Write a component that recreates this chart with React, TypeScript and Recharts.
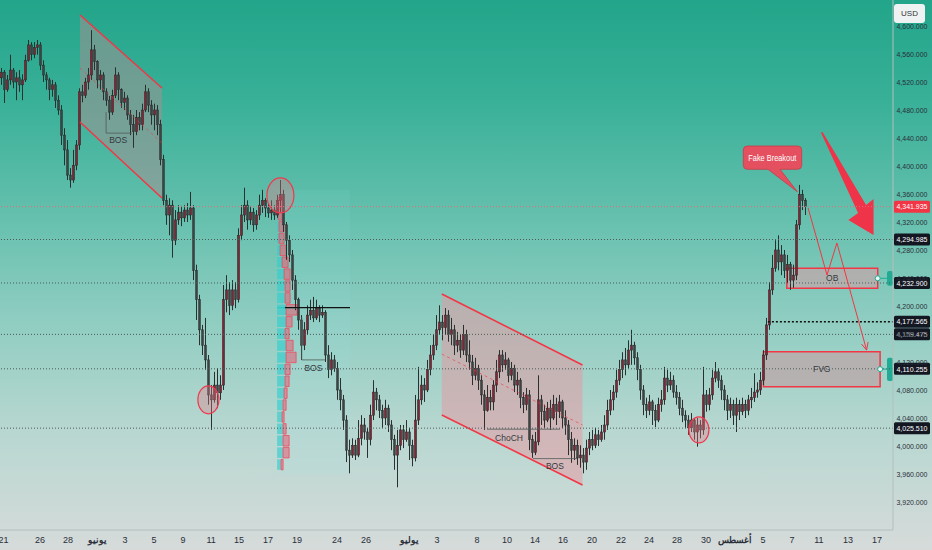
import {
  ComposedChart,
  Bar,
  XAxis,
  YAxis,
  ReferenceLine,
  ReferenceArea,
  ReferenceDot,
} from "recharts";

const FONT = "'Liberation Sans', Arial, sans-serif";

// candles as [open, high, low, close]
const candlesMay = [
  [4526, 4540, 4516, 4534], [4534, 4537, 4490, 4509], [4509, 4530, 4506, 4523], [4523, 4559, 4516, 4537],
  [4537, 4540, 4511, 4520], [4520, 4534, 4494, 4526], [4526, 4537, 4506, 4516], [4516, 4531, 4494, 4523],
  [4523, 4559, 4520, 4551], [4551, 4580, 4549, 4573], [4573, 4577, 4551, 4559], [4559, 4577, 4554, 4569],
  [4569, 4580, 4559, 4573], [4573, 4577, 4537, 4544], [4544, 4551, 4520, 4530], [4530, 4534, 4509, 4523],
  [4523, 4526, 4494, 4509], [4509, 4523, 4499, 4516], [4516, 4520, 4483, 4494], [4494, 4501, 4473, 4480],
  [4480, 4487, 4430, 4444], [4444, 4454, 4401, 4423], [4423, 4437, 4380, 4387], [4387, 4397, 4369, 4380],
  [4380, 4423, 4376, 4401], [4401, 4437, 4394, 4430], [4430, 4511, 4423, 4506], [4506, 4516, 4491, 4501],
  [4501, 4526, 4497, 4520], [4520, 4540, 4509, 4530], [4530, 4594, 4523, 4566], [4566, 4573, 4537, 4549],
];

const candlesJune = [
  [4549, 4551, 4511, 4523], [4523, 4537, 4509, 4530], [4530, 4534, 4494, 4506], [4506, 4511, 4486, 4494],
  [4494, 4500, 4466, 4477], [4477, 4509, 4473, 4501], [4501, 4541, 4497, 4530], [4530, 4534, 4494, 4509],
  [4509, 4511, 4483, 4491], [4491, 4506, 4480, 4497], [4497, 4501, 4466, 4473], [4473, 4480, 4444, 4459],
  [4459, 4473, 4426, 4449], [4449, 4480, 4444, 4469], [4469, 4477, 4451, 4459], [4459, 4489, 4451, 4480],
  [4480, 4516, 4477, 4506], [4506, 4511, 4477, 4487], [4487, 4494, 4459, 4473], [4473, 4489, 4451, 4480],
  [4480, 4487, 4444, 4459], [4459, 4466, 4401, 4409], [4409, 4416, 4344, 4351], [4351, 4359, 4316, 4330],
  [4330, 4354, 4301, 4344], [4344, 4351, 4269, 4294], [4294, 4337, 4287, 4323], [4323, 4344, 4316, 4334],
  [4334, 4343, 4314, 4326], [4326, 4344, 4320, 4337], [4337, 4347, 4320, 4330], [4330, 4363, 4323, 4340],
  [4340, 4344, 4237, 4251], [4251, 4259, 4180, 4209], [4209, 4216, 4144, 4166], [4166, 4173, 4130, 4144],
  [4144, 4183, 4109, 4123], [4123, 4130, 4059, 4073], [4073, 4087, 4023, 4066], [4066, 4106, 4062, 4087],
  [4087, 4111, 4054, 4076], [4076, 4101, 4066, 4087], [4087, 4230, 4080, 4209], [4209, 4244, 4191, 4223],
  [4223, 4234, 4187, 4201], [4201, 4237, 4194, 4223], [4223, 4234, 4197, 4209], [4209, 4311, 4205, 4301],
  [4301, 4344, 4294, 4330], [4330, 4369, 4320, 4344], [4344, 4351, 4309, 4323], [4323, 4343, 4316, 4334],
  [4334, 4340, 4306, 4316], [4316, 4337, 4309, 4330], [4330, 4359, 4323, 4344], [4344, 4366, 4333, 4351],
  [4351, 4354, 4327, 4340], [4340, 4347, 4326, 4333], [4333, 4351, 4323, 4337], [4337, 4344, 4323, 4330],
  [4330, 4359, 4326, 4351], [4351, 4380, 4334, 4359], [4359, 4366, 4306, 4316], [4316, 4320, 4266, 4294],
  [4294, 4301, 4263, 4273], [4273, 4280, 4223, 4237], [4237, 4244, 4194, 4209], [4209, 4212, 4166, 4180],
  [4180, 4187, 4123, 4144], [4144, 4177, 4137, 4166], [4166, 4201, 4159, 4187], [4187, 4209, 4180, 4194],
  [4194, 4213, 4177, 4183], [4183, 4209, 4180, 4197], [4197, 4201, 4177, 4187], [4187, 4201, 4183, 4191],
  [4191, 4194, 4120, 4130], [4130, 4144, 4097, 4109], [4109, 4134, 4101, 4123], [4123, 4130, 4106, 4111],
  [4111, 4120, 4066, 4080], [4080, 4097, 4051, 4066], [4066, 4073, 4023, 4037], [4037, 4044, 3977, 3994],
  [3994, 4009, 3961, 3987], [3987, 4011, 3983, 4001], [4001, 4009, 3980, 3987], [3987, 4037, 3984, 4011],
  [4011, 4044, 4001, 4030], [4030, 4040, 4009, 4020], [4020, 4026, 3983, 4009], [4009, 4059, 4001, 4044],
  [4044, 4094, 4037, 4077], [4077, 4083, 4051, 4066], [4066, 4073, 4040, 4051], [4051, 4059, 4026, 4040],
  [4040, 4066, 4030, 4054], [4054, 4059, 4020, 4030], [4030, 4037, 3994, 4009], [4009, 4016, 3966, 3987],
  [3987, 4023, 3941, 4001], [4001, 4030, 3994, 4023], [4023, 4030, 3997, 4009], [4009, 4037, 4006, 4020],
];

const candlesJuly = [
  [4020, 4026, 3980, 4001], [4001, 4009, 3971, 3983], [3983, 4073, 3978, 4037], [4037, 4113, 4030, 4066],
  [4066, 4101, 4059, 4087], [4087, 4097, 4063, 4080], [4080, 4123, 4077, 4109], [4109, 4144, 4101, 4130],
  [4130, 4159, 4123, 4144], [4144, 4187, 4137, 4166], [4166, 4201, 4159, 4177], [4177, 4187, 4151, 4169],
  [4169, 4197, 4159, 4187], [4187, 4194, 4149, 4159], [4159, 4183, 4144, 4166], [4166, 4173, 4130, 4144],
  [4144, 4163, 4134, 4151], [4151, 4159, 4126, 4137], [4137, 4173, 4130, 4159], [4159, 4166, 4120, 4130],
  [4130, 4151, 4109, 4120], [4120, 4130, 4087, 4101], [4101, 4126, 4094, 4111], [4111, 4116, 4080, 4094],
  [4094, 4101, 4059, 4073], [4073, 4080, 4023, 4051], [4051, 4087, 4049, 4069], [4069, 4080, 4051, 4063],
  [4063, 4094, 4051, 4087], [4087, 4123, 4077, 4106], [4106, 4137, 4097, 4130], [4130, 4137, 4106, 4116],
  [4116, 4134, 4109, 4123], [4123, 4126, 4091, 4101], [4101, 4120, 4094, 4111], [4111, 4116, 4077, 4087],
  [4087, 4106, 4073, 4094], [4094, 4097, 4054, 4069], [4069, 4077, 4047, 4059], [4059, 4083, 4051, 4073],
  [4073, 4080, 3994, 4009], [4009, 4016, 3983, 3991], [3991, 4020, 3987, 4006], [4006, 4101, 4001, 4066],
  [4066, 4073, 4030, 4049], [4049, 4059, 4026, 4037], [4037, 4063, 4034, 4054], [4054, 4066, 4023, 4040],
  [4040, 4073, 4037, 4059], [4059, 4069, 4030, 4049], [4049, 4073, 4040, 4063], [4063, 4066, 4026, 4040],
  [4040, 4051, 4016, 4030], [4030, 4037, 3987, 4009], [4009, 4020, 3976, 3994], [3994, 4011, 3980, 4001],
  [4001, 4009, 3973, 3983], [3983, 4001, 3969, 3987], [3987, 3997, 3961, 3977], [3977, 4009, 3966, 3997],
  [3997, 4020, 3987, 4009], [4009, 4023, 3994, 4001], [4001, 4026, 3997, 4016], [4016, 4023, 4000, 4009],
  [4009, 4030, 4006, 4020], [4020, 4044, 4009, 4030], [4030, 4066, 4023, 4051], [4051, 4080, 4044, 4066],
  [4066, 4087, 4051, 4077], [4077, 4109, 4069, 4094], [4094, 4123, 4087, 4109], [4109, 4134, 4097, 4123],
  [4123, 4140, 4101, 4116], [4116, 4151, 4111, 4137], [4137, 4166, 4116, 4144], [4144, 4149, 4116, 4126],
  [4126, 4134, 4094, 4109], [4109, 4116, 4066, 4080], [4080, 4087, 4044, 4059], [4059, 4069, 4040, 4051],
  [4051, 4073, 4044, 4063], [4063, 4066, 4030, 4051], [4051, 4059, 4027, 4037], [4037, 4069, 4034, 4059],
  [4059, 4080, 4049, 4066], [4066, 4113, 4059, 4097], [4097, 4109, 4077, 4087], [4087, 4106, 4080, 4094],
  [4094, 4101, 4069, 4077], [4077, 4087, 4059, 4069], [4069, 4077, 4044, 4054], [4054, 4066, 4034, 4044],
  [4044, 4051, 4026, 4037], [4037, 4044, 4016, 4026], [4026, 4047, 4020, 4037], [4037, 4040, 4009, 4020],
  [4020, 4040, 3999, 4030], [4030, 4037, 4011, 4023], [4023, 4113, 4016, 4073], [4073, 4080, 4049, 4059],
  [4059, 4083, 4051, 4073], [4073, 4109, 4066, 4097], [4097, 4120, 4091, 4106], [4106, 4111, 4083, 4094],
  [4094, 4101, 4066, 4080], [4080, 4087, 4051, 4066], [4066, 4073, 4037, 4051], [4051, 4069, 4040, 4059],
  [4059, 4066, 4030, 4044],
];

const candlesAugust = [
  [4044, 4069, 4020, 4059], [4059, 4066, 4037, 4049], [4049, 4069, 4044, 4059], [4059, 4066, 4040, 4051],
  [4051, 4073, 4044, 4066], [4066, 4083, 4054, 4069], [4069, 4104, 4063, 4077], [4077, 4091, 4069, 4080],
  [4080, 4106, 4073, 4094], [4094, 4137, 4087, 4130], [4130, 4183, 4123, 4173], [4173, 4234, 4166, 4223],
  [4223, 4273, 4216, 4254], [4254, 4294, 4249, 4280], [4280, 4301, 4251, 4263], [4263, 4287, 4244, 4273],
  [4273, 4280, 4240, 4251], [4251, 4273, 4233, 4259], [4259, 4263, 4223, 4237], [4237, 4259, 4226, 4244],
  [4244, 4323, 4237, 4316], [4316, 4373, 4309, 4359], [4359, 4366, 4337, 4351], [4351, 4354, 4330, 4342],
];

// bottom axis: candle-index positions and their labels
const tickSlots = [0.5, 12.7, 22, 31.7, 41, 50.7, 60.3, 69.7, 79, 88.7, 98.3, 111.7, 121.3, 135.7, 145, 158.3,
  168.3, 177.7, 187, 196.7, 206.3, 215.7, 225, 234.7, 244.3, 253.7, 263.3, 272.3, 282, 291.7];
const tickLabels = ["21", "26", "28", "يونيو", "3", "5", "9", "11", "15", "17", "19", "24", "26", "يوليو", "3", "8",
  "10", "14", "16", "20", "22", "24", "28", "30", "أغسطس", "5", "7", "11", "13", "17"];
const monthNames = ["يونيو", "يوليو", "أغسطس"];

const priceTicks = [3920, 3960, 4000, 4040, 4080, 4120, 4160, 4200, 4240, 4280, 4320, 4360, 4400, 4440, 4480, 4520, 4560, 4600];

// marked price levels
const lastPrice = 4341.935;
const levelLines = [4294.985, 4232.9, 4159.475, 4110.255, 4025.51];
const breakLevel = 4177.565;

// drawings, in [candle index, price]
const upperChannel = { x1: 26, x2: 53.3, topL: 4615.7, topR: 4511.4, botL: 4462.9, botR: 4354.3, midL: 4540, midR: 4432.9 };
const lowerChannel = { x1: 146.6, x2: 193.5, topL: 4217.1, topR: 4115.7, botL: 4044.3, botR: 3944.3, midL: 4131.4, midR: 4030 };
const circles = [
  { x: 68.8, p: 4066, rx: 10.5, ry: 14 },
  { x: 92.8, p: 4358, rx: 13.5, ry: 17.5 },
  { x: 232.3, p: 4023, rx: 10, ry: 13 },
];
const structureLines = [
  [[34.7, 4477], [34.7, 4447]], [[34.7, 4447], [43.3, 4447]],
  [[99.9, 4184], [99.9, 4123]], [[99.9, 4123], [107.7, 4123]],
  [[161.7, 4024], [186, 4024]],
  [[177, 3982], [191.7, 3982]],
];
const structureLabels = [
  { x: 38.7, p: 4437, t: "BOS" },
  { x: 103.8, p: 4111, t: "BOS" },
  { x: 169, p: 4011, t: "ChoCH" },
  { x: 184.3, p: 3971, t: "BOS" },
];
const zones = [
  { x1: 261.6, x2: 291.9, lo: 4225.3, hi: 4253.8, t: "OB", tabLo: 4229, tabHi: 4250 },
  { x1: 253.8, x2: 292.7, lo: 4084.8, hi: 4134.8, t: "FVG", tabLo: 4093, tabHi: 4126 },
];
const pathPoints = [[268.7, 4340], [275, 4244.3], [278.3, 4290], [288.2, 4137]];
const arrowHeadWings = [[288.7, 4148.6], [286.5, 4145.7]];
const bigArrowBox = { x1: 272.7, x2: 290.7, lo: 4300, hi: 4448.6 };
const calloutTip = { x: 265.1, p: 4363.3 };

// volume profile at the June top
const profileX = 91.7;
const profileEdges = [4356, 4339, 4322, 4305, 4288, 4271, 4254, 4237, 4220, 4203, 4186, 4169, 4152, 4135, 4118,
  4101, 4084, 4067, 4050, 4033, 4016, 3999, 3982, 3965];
const profileBuy = [1, 1, 2, 2, 3, 5, 7, 8, 8, 9, 9, 8, 9, 9, 8, 8, 7, 6, 5, 6, 6, 6, 4];
const profileSell = [4, 4, 5, 5, 6, 6, 6, 5, 5, 11, 6, 4, 7, 10, 5, 4, 3, 3, 2, 3, 6, 6, 2];
const pocPrice = 4197.6;

const candles = [...candlesMay, ...candlesJune, ...candlesJuly, ...candlesAugust].map(
  ([open, high, low, close], i) => ({ i, open, high, low, close, range: [low, high] })
);

const fmt = (v: number) =>
  v.toLocaleString("en-US", { minimumFractionDigits: 3, maximumFractionDigits: 3 });

const RED = "#f23645";

const Candle = (props: any) => {
  const { x, y, width, height, payload } = props;
  const top = height < 0 ? y + height : y;
  const h = Math.abs(height);
  const k = h / (payload.high - payload.low || 1);
  const cx = x + width / 2;
  const yo = top + (payload.high - payload.open) * k;
  const yc = top + (payload.high - payload.close) * k;
  const up = payload.close >= payload.open;
  return (
    <g>
      <line x1={cx} x2={cx} y1={top} y2={top + h} stroke="#2a2f2f" strokeWidth={1} />
      <rect
        x={cx - 1}
        y={Math.min(yo, yc)}
        width={2}
        height={Math.max(Math.abs(yo - yc), 1)}
        fill={up ? "#8c1f31" : "rgba(75,80,80,0.6)"}
        stroke="#2a2f2f"
        strokeWidth={0.6}
      />
    </g>
  );
};

const DateTick = (props: any) => {
  const { x, y, payload } = props;
  const label = tickLabels[tickSlots.indexOf(payload.value)];
  return (
    <text x={x} y={y} dy={7} textAnchor="middle" fontSize={9} fill="#2a2e39"
      fontWeight={monthNames.includes(label) ? 700 : 400} fontFamily={FONT}>
      {label}
    </text>
  );
};

const PriceTick = (props: any) => {
  const { x, y, payload } = props;
  return (
    <text x={x - 1.5} y={y} dy="0.35em" textAnchor="start" fontSize={7.9} fill="#2a2e39" fontFamily={FONT}
      textLength={31} lengthAdjust="spacingAndGlyphs">
      {fmt(payload.value)}
    </text>
  );
};

const priceTag = (price: number, bg: string) => (props: any) => {
  const vb = props.viewBox;
  const x = vb.x + vb.width + 1;
  return (
    <g>
      <rect x={x} y={vb.y - 6} width={36} height={12} rx={1.5} fill={bg} />
      <text x={x + 2.5} y={vb.y} dy="0.35em" fill="#fff" fontSize={7.9} fontFamily={FONT}
        textLength={31} lengthAdjust="spacingAndGlyphs">
        {fmt(price)}
      </text>
    </g>
  );
};

const channelShape = (c: typeof upperChannel, fill: string) => (p: any) => {
  const { x, y, width, height } = p;
  const hi = Math.max(c.topL, c.topR);
  const lo = Math.min(c.botL, c.botR);
  const py = (v: number) => y + ((hi - v) / (hi - lo)) * height;
  const pts = [
    [x, py(c.topL)], [x + width, py(c.topR)], [x + width, py(c.botR)], [x, py(c.botL)],
  ].map((q) => q.join(",")).join(" ");
  return <polygon points={pts} fill={fill} />;
};

const bigArrowShape = (p: any) => {
  const { x, y, width, height } = p;
  const f = [[0.015, 0.005], [0.045, 0], [0.852, 0.702], [0.99, 0.644], [0.99, 0.99], [0.524, 0.846], [0.704, 0.779]];
  const pts = f.map(([a, b]) => `${x + a * width},${y + b * height}`).join(" ");
  return <polygon points={pts} fill="#ef3349" />;
};

const calloutShape = (p: any) => {
  const { cx, cy } = p;
  const l = cx - 54, r = cx + 4.4, t = cy - 45.7, b = cy - 22.4, rr = 4;
  const d = `M${l + rr},${t} H${r - rr} Q${r},${t} ${r},${t + rr} V${b - rr} Q${r},${b} ${r - rr},${b}
    H${cx - 17.3} L${cx},${cy} L${cx - 29.3},${b} H${l + rr} Q${l},${b} ${l},${b - rr} V${t + rr} Q${l},${t} ${l + rr},${t} Z`;
  return (
    <g>
      <path d={d} fill="#e4505f" stroke="#c93a4a" strokeWidth={0.8} />
      <text x={l + 5} y={(t + b) / 2} dy="0.35em" fill="#fff" fontSize={9} fontFamily={FONT}
        textLength={48} lengthAdjust="spacingAndGlyphs">
        Fake Breakout
      </text>
    </g>
  );
};

const textShape = (t: string) => (p: any) => (
  <text x={p.cx} y={p.cy} textAnchor="middle" dominantBaseline="central" fontSize={8.5} fill="#333a40" fontFamily={FONT}>
    {t}
  </text>
);

const ellipseShape = (rx: number, ry: number) => (p: any) => (
  <ellipse cx={p.cx} cy={p.cy} rx={rx} ry={ry} fill="rgba(235,120,135,0.35)" stroke="#ee3a50" strokeWidth={1.2} />
);

const handleShape = (p: any) => (
  <circle cx={p.cx} cy={p.cy} r={2.5} fill="#e8f6f3" stroke="#22ab94" strokeWidth={1} />
);

export default function App() {
  return (
    <div
      style={{
        position: "absolute",
        left: 0,
        top: 0,
        width: 932,
        height: 550,
        background: "linear-gradient(to bottom, #22a58a 0%, #38b098 18%, #62bfac 38%, #8fcdc1 58%, #b7d7d0 78%, #d6dbda 100%)",
        overflow: "hidden",
      }}
    >
      <ComposedChart width={932} height={550} data={candles} margin={{ top: 0, right: 0, bottom: 0, left: 0 }}>
        <XAxis
          dataKey="i"
          type="number"
          domain={[-0.67, 297]}
          allowDataOverflow
          ticks={tickSlots}
          interval={0}
          height={20}
          tickSize={4}
          tickLine={false}
          axisLine={{ stroke: "#b3bfbd" }}
          tick={<DateTick />}
        />
        <YAxis
          orientation="right"
          type="number"
          domain={[3880, 4637.14]}
          allowDataOverflow
          ticks={priceTicks}
          interval={0}
          width={39}
          tickSize={3}
          tickLine={false}
          axisLine={{ stroke: "#b3bfbd" }}
          tick={<PriceTick />}
        />

        {/* volume profile backdrop */}
        <ReferenceArea x1={profileX} x2={116} y1={3959} y2={4366} fill="rgba(160,235,240,0.09)" fillOpacity={1} ifOverflow="visible" />
        {profileBuy.map((b, k) => (
          <ReferenceArea key={"pb" + k} x1={profileX} x2={profileX + b / 3} y1={profileEdges[k + 1] + 1} y2={profileEdges[k] - 1}
            fill="rgba(40,205,205,0.6)" fillOpacity={1} ifOverflow="visible" />
        ))}
        {profileSell.map((s, k) => (
          <ReferenceArea key={"ps" + k} x1={profileX + profileBuy[k] / 3} x2={profileX + (profileBuy[k] + s) / 3} y1={profileEdges[k + 1] + 1} y2={profileEdges[k] - 1}
            fill="rgba(242,80,105,0.5)" fillOpacity={1} stroke="#f04a5f" strokeWidth={0.8} ifOverflow="visible" />
        ))}

        {/* channels */}
        {[upperChannel, lowerChannel].map((c, k) => (
          <ReferenceArea key={"ch" + k} x1={c.x1} x2={c.x2} y1={Math.min(c.botL, c.botR)} y2={Math.max(c.topL, c.topR)}
            ifOverflow="visible" shape={channelShape(c, k === 0 ? "rgba(160,145,145,0.55)" : "rgba(232,150,160,0.5)")} />
        ))}
        {[upperChannel, lowerChannel].map((c, k) => (
          <ReferenceLine key={"cht" + k} segment={[{ x: c.x1, y: c.topL }, { x: c.x2, y: c.topR }]} stroke={RED} strokeWidth={1.5} ifOverflow="visible" />
        ))}
        {[upperChannel, lowerChannel].map((c, k) => (
          <ReferenceLine key={"chb" + k} segment={[{ x: c.x1, y: c.botL }, { x: c.x2, y: c.botR }]} stroke={RED} strokeWidth={1.5} ifOverflow="visible" />
        ))}
        {[upperChannel, lowerChannel].map((c, k) => (
          <ReferenceLine key={"chm" + k} segment={[{ x: c.x1, y: c.midL }, { x: c.x2, y: c.midR }]} stroke={RED} strokeOpacity={0.6} strokeDasharray="3 3" ifOverflow="visible" />
        ))}

        {/* level lines */}
        <ReferenceLine y={lastPrice} stroke="#e46a7a" strokeDasharray="1 2" label={priceTag(lastPrice, RED)} ifOverflow="visible" />
        {levelLines.map((p) => (
          <ReferenceLine key={"lv" + p} y={p} stroke="#4d5a58" strokeDasharray="1 2" label={priceTag(p, "#131722")} ifOverflow="visible" />
        ))}
        <ReferenceLine segment={[{ x: 255.3, y: breakLevel }, { x: 297, y: breakLevel }]} stroke="#111" strokeWidth={1.6} strokeDasharray="2 2" ifOverflow="visible" />
        <ReferenceLine y={breakLevel} stroke="none" label={priceTag(breakLevel, "#131722")} ifOverflow="visible" />

        {/* zones */}
        {zones.map((z) => (
          <ReferenceArea key={z.t} x1={z.x1} x2={z.x2} y1={z.lo} y2={z.hi} fill="rgba(185,172,172,0.85)" fillOpacity={1}
            stroke={RED} strokeWidth={1.5} ifOverflow="visible" />
        ))}
        {zones.map((z) => (
          <ReferenceLine key={"zl" + z.t} segment={[{ x: z.x2, y: (z.lo + z.hi) / 2 }, { x: 295, y: (z.lo + z.hi) / 2 }]} stroke="#22ab94" ifOverflow="visible" />
        ))}
        {zones.map((z) => (
          <ReferenceArea key={"zt" + z.t} x1={295} x2={297} y1={z.tabLo} y2={z.tabHi} fill="#22ab94" fillOpacity={1} radius={2} ifOverflow="visible" />
        ))}

        <Bar dataKey="range" barSize={2} shape={<Candle />} isAnimationActive={false} />

        {/* markers and labels */}
        {circles.map((c, k) => (
          <ReferenceDot key={"c" + k} x={c.x} y={c.p} r={1} shape={ellipseShape(c.rx, c.ry)} ifOverflow="visible" />
        ))}
        {structureLines.map(([a, b], k) => (
          <ReferenceLine key={"sl" + k} segment={[{ x: a[0], y: a[1] }, { x: b[0], y: b[1] }]} stroke="#4f5a58" strokeWidth={0.8} ifOverflow="visible" />
        ))}
        {structureLabels.map((s, k) => (
          <ReferenceDot key={"st" + k} x={s.x} y={s.p} r={1} shape={textShape(s.t)} ifOverflow="visible" />
        ))}
        {zones.map((z) => (
          <ReferenceDot key={"zn" + z.t} x={(z.x1 + z.x2) / 2} y={(z.lo + z.hi) / 2} r={1} shape={textShape(z.t)} ifOverflow="visible" />
        ))}
        {zones.map((z) => (
          <ReferenceDot key={"zh" + z.t} x={z.x2} y={(z.lo + z.hi) / 2} r={1} shape={handleShape} ifOverflow="visible" />
        ))}
        <ReferenceLine segment={[{ x: profileX, y: pocPrice }, { x: 98.3, y: pocPrice }]} stroke="#29c9c4" strokeWidth={1.2} ifOverflow="visible" />
        <ReferenceLine segment={[{ x: 94.3, y: pocPrice }, { x: 116, y: pocPrice }]} stroke="#111" strokeWidth={1.3} ifOverflow="visible" />

        {pathPoints.slice(1).map((q, k) => (
          <ReferenceLine key={"pp" + k} segment={[{ x: pathPoints[k][0], y: pathPoints[k][1] }, { x: q[0], y: q[1] }]} stroke={RED} strokeWidth={1} ifOverflow="visible" />
        ))}
        {arrowHeadWings.map((w, k) => (
          <ReferenceLine key={"aw" + k} segment={[{ x: pathPoints[3][0], y: pathPoints[3][1] }, { x: w[0], y: w[1] }]} stroke={RED} strokeWidth={1} ifOverflow="visible" />
        ))}
        <ReferenceArea x1={bigArrowBox.x1} x2={bigArrowBox.x2} y1={bigArrowBox.lo} y2={bigArrowBox.hi} shape={bigArrowShape} ifOverflow="visible" />
        <ReferenceDot x={calloutTip.x} y={calloutTip.p} r={1} shape={calloutShape} ifOverflow="visible" />
      </ComposedChart>
      <div
        style={{
          position: "absolute",
          left: 894,
          top: 4,
          width: 31,
          height: 19,
          background: "#eef2f2",
          borderRadius: 3,
          fontFamily: FONT,
          fontSize: 8,
          color: "#333",
          display: "flex",
          alignItems: "center",
          justifyContent: "center",
        }}
      >
        USD
      </div>
    </div>
  );
}
